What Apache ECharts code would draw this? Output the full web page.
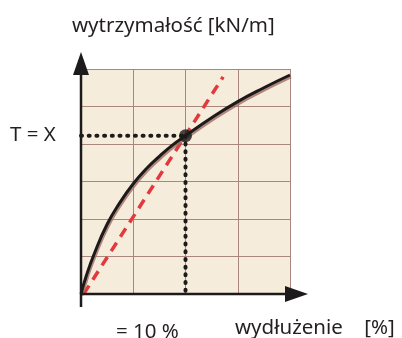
<!DOCTYPE html>
<html>
<head>
<meta charset="utf-8">
<script src="https://cdn.jsdelivr.net/npm/echarts@6/dist/echarts.min.js"></script>
<style>
  html, body { margin: 0; padding: 0; background: #fff; }
  #chart { width: 402px; height: 338px; }
</style>
</head>
<body>
<div id="chart"></div>
<script>
// strength curve (black) in grid units
const curveX = [0, 0.1, 0.25, 0.5, 0.75, 1.0, 1.25, 1.5, 1.75, 2.0, 2.5, 3.0, 3.5, 4.0];
const curveY = [0, 0.48, 1.06, 1.86, 2.45, 2.94, 3.34, 3.67, 3.97, 4.22, 4.7, 5.13, 5.5, 5.84];
// red dashed reference line
const dashX = [0.05, 2.72];
const dashY = [0, 5.79];
// marked point T = X at 10 %
const pointX = 2;
const pointY = 4.22;

const yLabel = "wytrzymałość [kN/m]";
const xLabel = "wydłużenie    [%]";
const tLabel = "T = X";
const pLabel = "= 10 %";

const font = "Noto Sans";
const textColor = "#231f20";

const chart = echarts.init(document.getElementById("chart"));

const option = {
  animation: false,
  backgroundColor: "#fff",
  grid: {
    left: 81,
    top: 69,
    width: 209,
    height: 225,
    show: true,
    backgroundColor: "#f6ecdc",
    borderWidth: 0
  },
  xAxis: {
    type: "value",
    min: 0,
    max: 4,
    interval: 1,
    axisLine: { show: false },
    axisTick: { show: false },
    axisLabel: { show: false },
    splitLine: { show: true, showMinLine: true, showMaxLine: true, lineStyle: { color: "#a9877c", width: 1 } }
  },
  yAxis: {
    type: "value",
    min: 0,
    max: 6,
    interval: 1,
    axisLine: { show: false },
    axisTick: { show: false },
    axisLabel: { show: false },
    splitLine: { show: true, showMinLine: true, showMaxLine: true, lineStyle: { color: "#a9877c", width: 1 } }
  },
  series: [
    {
      type: "line",
      data: dashX.map((x, i) => [x, dashY[i]]),
      symbol: "none",
      lineStyle: { color: "#e2393d", width: 3.5, type: [10, 7] },
      z: 3
    },
    {
      type: "line",
      data: curveX.map((x, i) => [x, curveY[i]]),
      symbol: "none",
      smooth: 0.5,
      lineStyle: {
        color: "#1c1a1a",
        width: 3,
        shadowColor: "rgba(160,110,100,0.8)",
        shadowOffsetX: 1,
        shadowOffsetY: 2,
        shadowBlur: 0
      },
      z: 4
    },
    {
      type: "line",
      data: [[0, pointY], [pointX, pointY]],
      symbol: "none",
      lineStyle: { color: "#1c1a1a", width: 4, type: [1, 6.7], cap: "round" },
      z: 5
    },
    {
      type: "line",
      data: [[pointX, pointY], [pointX, 0]],
      symbol: "none",
      lineStyle: { color: "#1c1a1a", width: 4, type: [1, 6.7], cap: "round" },
      z: 5
    },
    {
      type: "scatter",
      data: [[pointX, pointY]],
      symbol: "circle",
      symbolSize: 13,
      itemStyle: { color: "#1c1a1a" },
      z: 6
    }
  ]
};

chart.setOption(option);

// axes with arrows, placed from the grid's own scale
const o = chart.convertToPixel({ gridIndex: 0 }, [0, 0]);
const xEnd = chart.convertToPixel({ gridIndex: 0 }, [4, 0]);
const yEnd = chart.convertToPixel({ gridIndex: 0 }, [0, 6]);
const axisColor = "#1c1a1a";

function label(text, x, y, size) {
  return {
    type: "text",
    x: x,
    y: y,
    style: {
      text: text,
      fontFamily: font,
      fontSize: size,
      fill: textColor,
      align: "left",
      verticalAlign: "middle"
    },
    z: 10
  };
}

chart.setOption({
  graphic: [
    {
      type: "line",
      shape: { x1: o[0], y1: o[1] + 13, x2: o[0], y2: yEnd[1] - 6 },
      style: { stroke: axisColor, lineWidth: 2.5 },
      z: 10
    },
    {
      type: "polygon",
      shape: { points: [[o[0], yEnd[1] - 17], [o[0] - 8, yEnd[1] + 6], [o[0] + 8, yEnd[1] + 6]] },
      style: { fill: axisColor },
      z: 10
    },
    {
      type: "line",
      shape: { x1: o[0] - 1, y1: o[1], x2: xEnd[0] + 6, y2: o[1] },
      style: { stroke: axisColor, lineWidth: 2.5 },
      z: 10
    },
    {
      type: "polygon",
      shape: { points: [[xEnd[0] + 18, o[1]], [xEnd[0] - 5, o[1] - 8], [xEnd[0] - 5, o[1] + 8]] },
      style: { fill: axisColor },
      z: 10
    },
    label(yLabel, 72, 26, 20.5),
    label(tLabel, 10, 135, 20.5),
    label(pLabel, 116, 332, 20.5),
    label(xLabel, 235, 328, 20.5)
  ]
});
</script>
</body>
</html>
